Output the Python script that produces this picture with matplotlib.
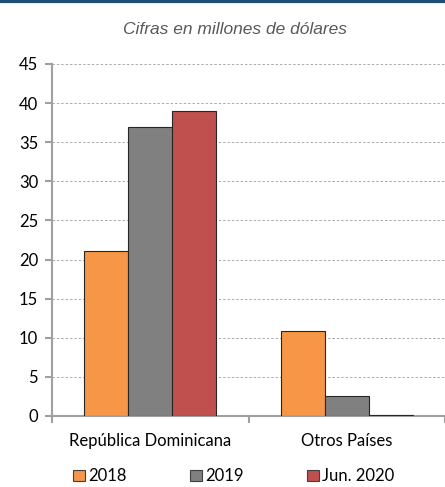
import numpy as np
import matplotlib.pyplot as plt
from matplotlib.patches import Patch

categorias = ['República Dominicana', 'Otros Países']
series = ['2018', '2019', 'Jun. 2020']
v2018 = [21.1, 10.9]
v2019 = [37.0, 2.6]
vjun2020 = [39.0, 0.15]
yticks = [0, 5, 10, 15, 20, 25, 30, 35, 40, 45]

colores = ['#F79646', '#808080', '#C0504D']

plt.rcParams['font.family'] = ['Lato', 'DejaVu Sans']

fig = plt.figure(figsize=(4.45, 4.87), dpi=100)
ax = fig.add_axes([52 / 445, 71 / 487, 393 / 445, 352 / 487])

x = np.arange(len(categorias))
ancho = 0.224
for i, (vals, nombre) in enumerate(zip([v2018, v2019, vjun2020], series)):
    ax.bar(x + (i - 1) * ancho, vals, width=ancho, color=colores[i],
           edgecolor='#262626', linewidth=0.8, label=nombre, zorder=3)

ax.set_xlim(-0.5, 1.5)
ax.set_ylim(0, 45)
ax.set_yticks(yticks)
ax.set_yticklabels([str(t) for t in yticks], fontsize=12)
ax.yaxis.grid(True, linestyle=(0, (2.5, 2)), color='#ABABAB', linewidth=0.7, zorder=0)

ax.set_xticks(x)
ax.set_xticklabels(categorias, fontsize=12)
ax.set_xticks([-0.5, 0.5, 1.5], minor=True)
ax.tick_params(axis='x', which='major', length=0, pad=12)
ax.tick_params(axis='x', which='minor', length=5, color='#A0A0A0', width=1.5)
ax.tick_params(axis='y', length=5, color='#A0A0A0', width=1.5, pad=5)

for s in ['top', 'right']:
    ax.spines[s].set_visible(False)
for s in ['left', 'bottom']:
    ax.spines[s].set_color('#A0A0A0')
    ax.spines[s].set_linewidth(1.5)

fig.text(0.527, 0.94, 'Cifras en millones de dólares', ha='center', va='center',
         fontsize=12.5, style='italic', color='#595959', family='Liberation Sans')

# linea azul superior
fig.add_artist(plt.Line2D([0, 1], [0.998, 0.998], color='#1F4E79', linewidth=3,
                          transform=fig.transFigure))

handles = [Patch(facecolor=c, edgecolor='#404040', linewidth=0.8) for c in colores]
fig.legend(handles, series, loc='center', bbox_to_anchor=(0.525, 0.022), ncol=3,
           frameon=False, fontsize=12, handlelength=0.7, handleheight=0.7,
           handletextpad=0.2, columnspacing=3.8)

fig.savefig('out.png', dpi=100)
